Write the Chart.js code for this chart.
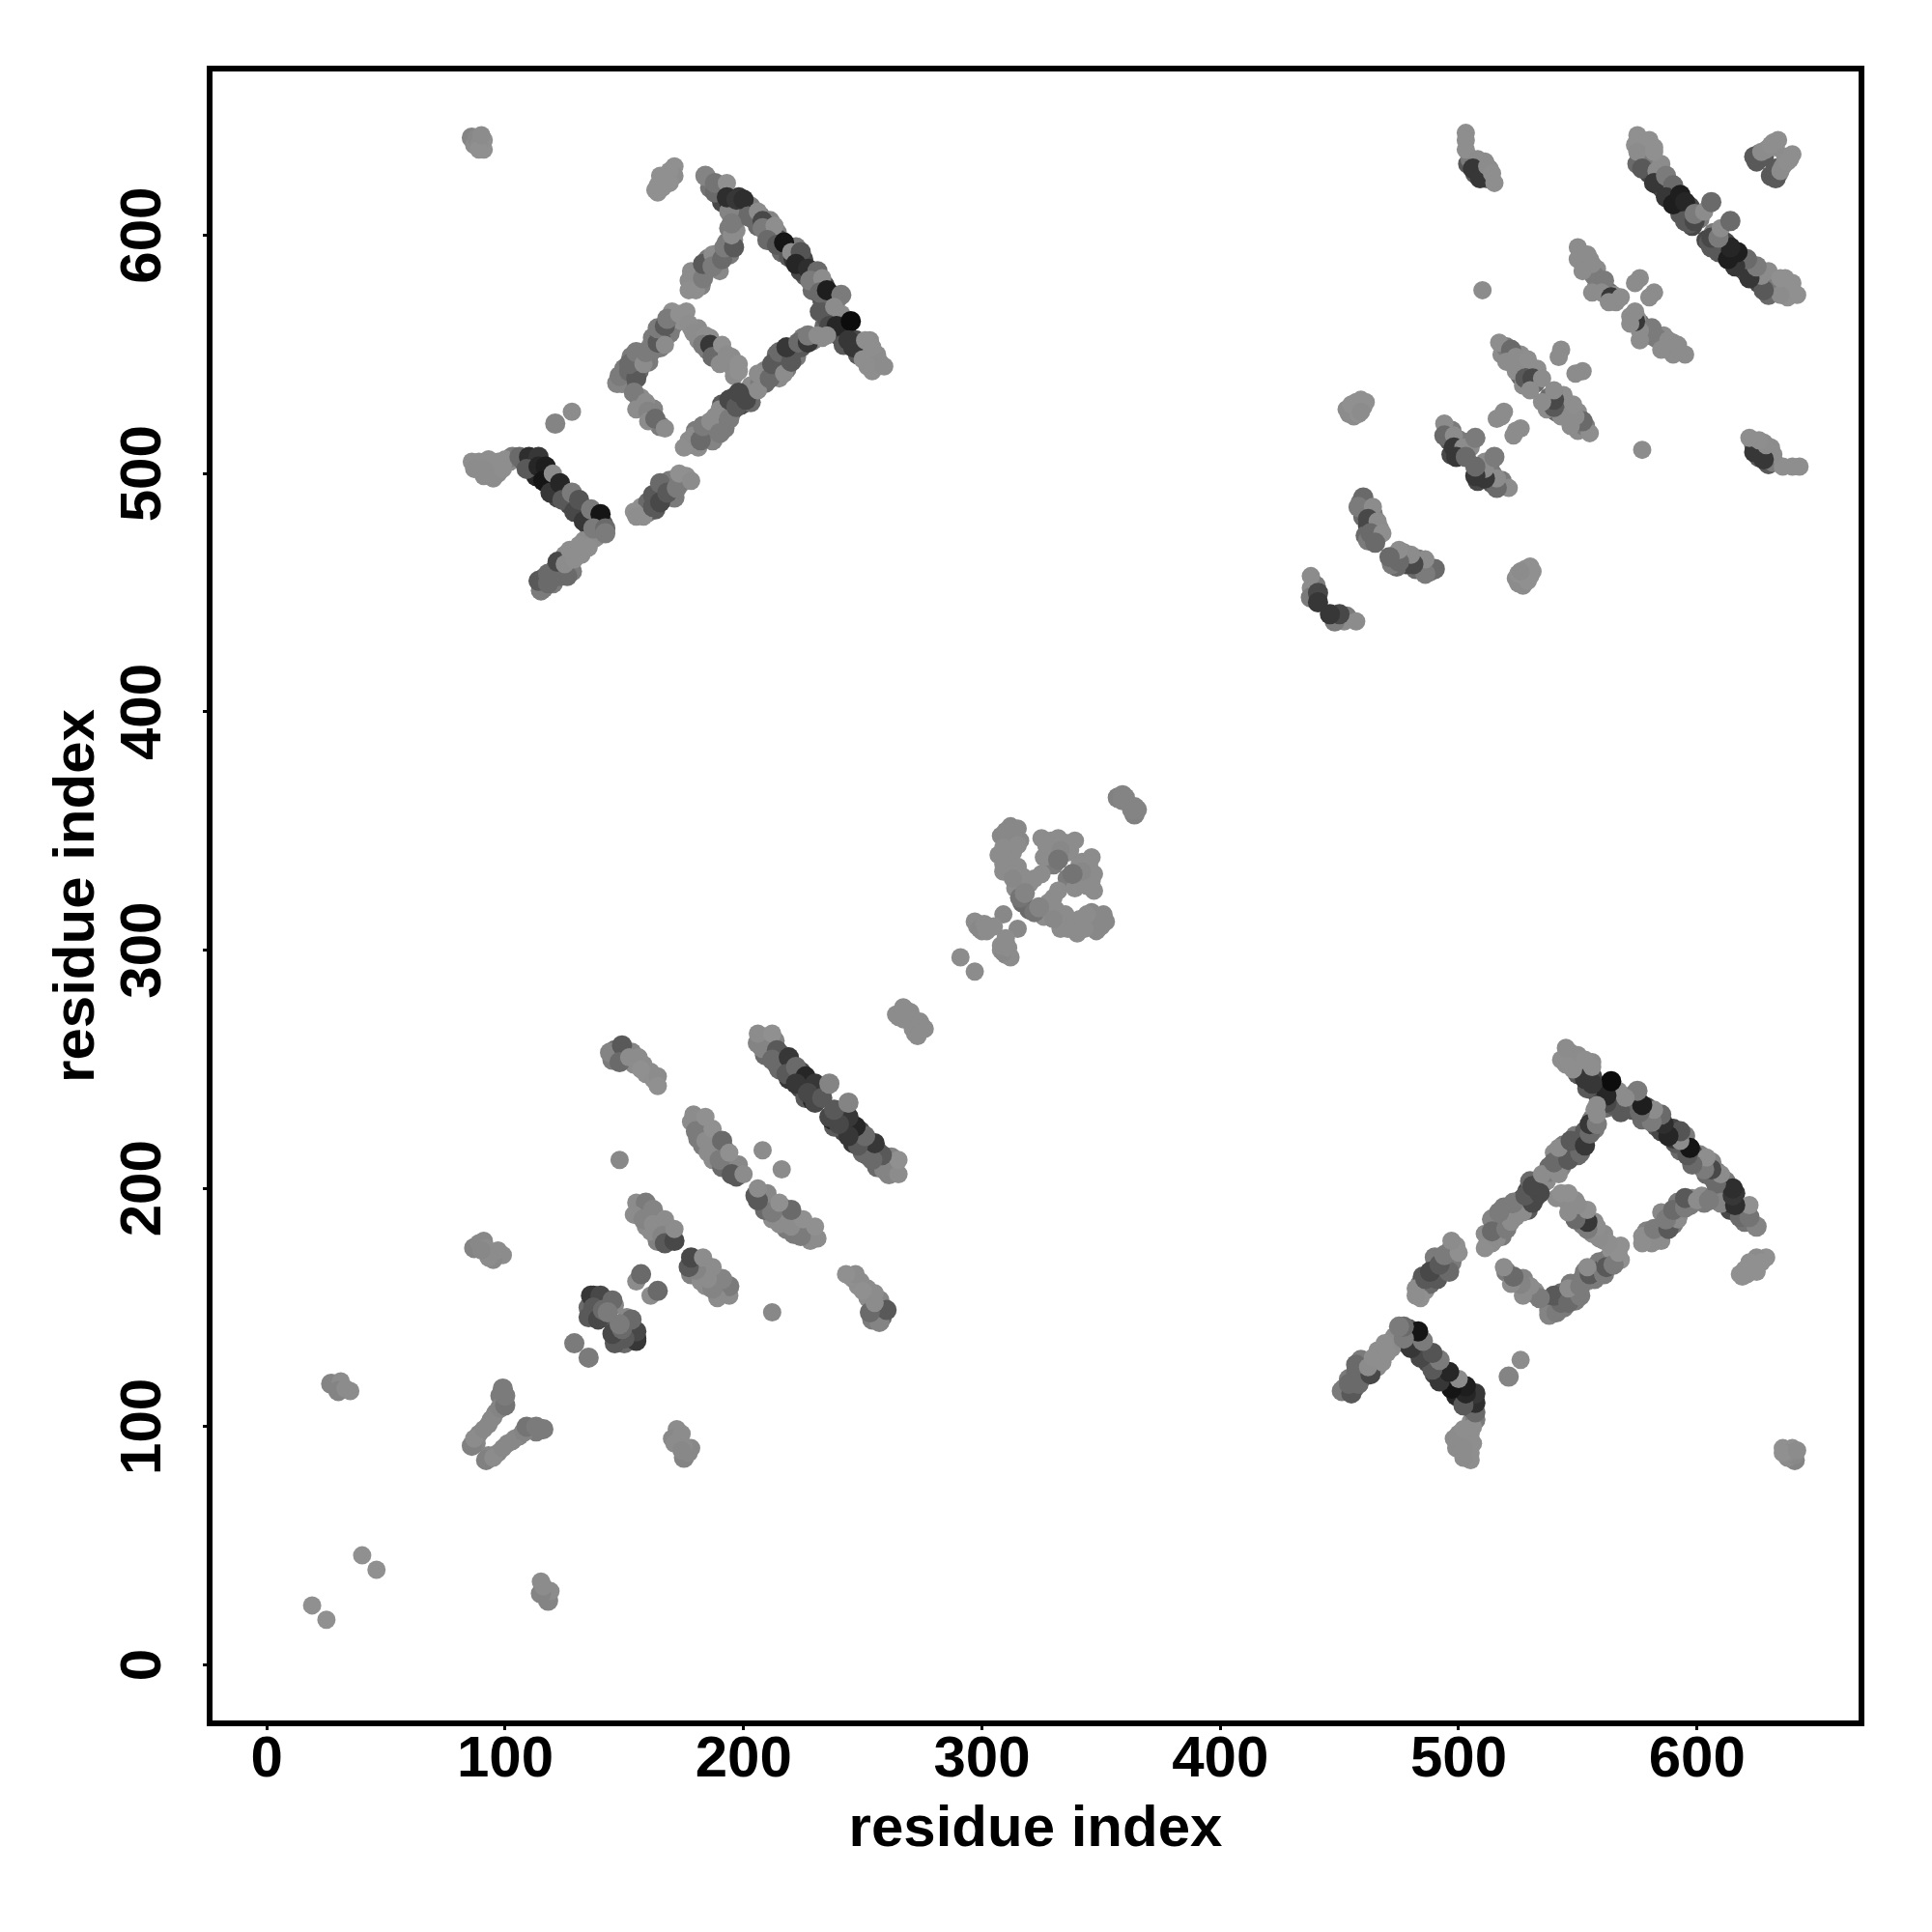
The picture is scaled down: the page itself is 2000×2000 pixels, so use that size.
<!DOCTYPE html>
<html>
<head>
<meta charset="utf-8">
<style>html,body{margin:0;padding:0;background:#fff}canvas{display:block}</style>
<script src="https://cdn.jsdelivr.net/npm/chart.js@4/dist/chart.umd.min.js"></script>
</head>
<body>
<canvas id="c" width="2000" height="2000"></canvas>
<script>
const axisLabel = "residue index";
const tickValues = [0,100,200,300,400,500,600];
// Each contact: [residue a, residue b, grey level]; the map is symmetric, (b,a) is drawn too.
const lowerLayer1 = [[88,93,130],[89,97,132],[93,101,132],[94,103,132],[96,106,130],[99,111,112],[98,113,119],
 [138,152,85],[142,153,102],[138,147,51],[136,148,102],[141,146,85],[144,151,119],[139,150,51],[146,151,132],[137,155,51],[135,150,102],
 [156,191,132],[157,190,125],[160,188,125],[163,187,128],[159,184,136],[164,183,125],[168,184,136],[169,180,119],[170,181,100],[164,178,125],[161,186,128],[157,192,119],[168,178,85],
 [146,258,102],[147,256,85],[150,257,85],[149,255,102],[153,257,128],[154,252,136],[155,252,136],[158,252,136],[159,248,140],[161,249,136],[162,246,138],[163,245,140],[145,254,119],
 [178,228,136],[182,226,119],[181,221,119],[185,225,136],[183,218,119],[186,223,136],[188,218,119],[187,212,136],[189,215,136],[192,217,136],[192,213,136],[193,209,119],[191,209,102],[197,208,128],[197,205,85],[198,210,132],
 [206,261,128],[209,263,128],[210,260,119],[209,256,102],[211,261,119],[213,262,128],[216,256,85],[214,252,85],[217,252,68],[215,250,102],[220,250,68],[219,246,51],[224,249,68],[224,245,51],[224,242,68],[228,243,34],[226,238,85],[231,241,51],[229,237,34],
 [310,350,132],[313,349,132],[311,345,132],[313,341,136],[307,340,136],[311,338,136],[309,333,136],[315,335,136],[318,329,136],[322,330,136],[314,326,136],[317,320,102],[316,346,132],[327,340,136],[330,343,136],[335,345,136],[337,342,136],[330,340,136],[330,336,119],[326,339,136],[298,310,136],[300,308,136],[303,310,136]];
const lowerLayer2 = [[186,620,112],[190,621,119],[190,617,85],[191,614,68],[195,613,51],[198,616,51],[194,614,40],[203,612,119],[204,607,85],[206,604,102],[207,608,119],[210,602,85],[211,606,128],[212,600,102],[214,601,128],[215,598,68],[218,594,68],[216,593,102],[219,591,85],[221,590,51],[222,595,119],[225,590,68],[226,583,85],[224,585,68],[229,584,102],[230,579,85],[231,582,119],[229,577,102],[234,579,68],[237,575,85],[236,572,68],[233,573,85],[235,570,102],[239,573,119],[232,568,85],[234,562,102],[237,566,68],[240,565,51],[242,562,34],[243,559,51],[240,558,68],[242,554,85],[247,556,68],[248,550,85],[249,553,102],[253,556,136],[252,550,138],[256,550,136],[255,547,138],[257,547,136],[252,545,138],
 [178,583,136],[180,580,130],[179,578,136],[181,585,119],[182,579,125],[185,590,119],[185,586,119],[188,589,136],[189,592,119],[190,585,132],[193,593,102],[194,592,119],[193,597,119],[196,598,136],[194,603,119],[197,602,136],[197,607,119],[198,610,102],[194,610,128],
 [149,538,128],[150,544,119],[153,539,85],[154,548,119],[156,543,102],[153,549,119],[157,549,119],[160,547,119],[161,554,136],[160,549,119],[162,552,119],[162,557,119],[165,558,102],[169,559,119],[166,560,85],[170,562,119],[165,553,119],[171,565,136],[174,564,140],[170,568,140],[175,566,140],[178,561,136],[181,556,136],[181,561,136],[185,552,119],[188,552,85],[189,549,136],[192,547,136],[195,549,136],[195,545,136],[196,541,136],[186,557,136],
 [157,532,136],[157,528,136],[162,527,128],[156,531,132],[165,520,119],
 [177,512,136],[177,514,136],[180,518,119],[181,511,136],[184,516,119],[185,519,102],[187,514,128],[188,519,119],[188,524,136],[192,519,119],[191,529,85],[192,525,102],[195,526,85],[196,532,68],[199,529,68],[203,533,85],[203,530,102],[203,537,136],[207,538,119],[209,543,128],[209,538,102],[214,545,102],[214,550,102],[215,540,136],[218,548,85],[218,544,119],[217,552,102],[221,551,85],[222,549,119],[224,553,85],[225,557,119],[229,556,119],[233,557,136],
 [157,486,140],[160,484,119],[160,488,102],[163,485,85],[164,491,85],[167,490,85],[166,493,68],[170,494,102],[169,497,119],[171,490,119],[174,496,136],[176,499,140]];
const lowerLayer3 = [[89,505,138],[91,499,136],[93,502,136],[97,500,136],[97,505,138],[102,505,136],[103,507,119],[108,505,85],[111,504,51],[112,501,51],[113,499,34],[115,501,34],[118,496,34],[120,494,51],[121,497,68],[122,490,68],[125,492,85],[127,487,68],[126,490,102],[130,486,68],[132,485,102],[134,483,85],[135,478,68],[138,480,68],[138,482,119],[139,476,102],[141,479,85],
 [116,452,119],[116,456,102],[120,457,85],[120,454,119],[121,460,85],[123,457,102],[124,459,119],[125,466,136],[126,461,136],[129,467,138],[128,459,119],[132,466,138],[133,472,136],[136,472,136],[138,473,136],
 [504,630,85],[505,632,119],[507,626,85],[510,627,85],[511,631,136],[512,624,85],[513,628,136],
 [574,638,140],[576,632,136],[578,636,140],[580,640,140],[578,632,136],[575,630,102],[579,629,85],[580,626,68],[581,631,119],[585,630,136],[584,624,85],[584,621,68],[588,622,85],[586,619,68],[589,617,51],[591,618,51],[592,612,34],[593,609,85],[596,610,85],[597,612,68],[598,604,68],[601,607,119],[597,605,85],
 [625,631,85],[626,634,119],[628,633,85],[629,636,136],[632,639,138],[633,637,136],
 [551,593,136],[552,589,136],[553,587,136],[555,590,136],[558,586,136],[557,583,119],[559,579,136],[558,578,119],[561,577,102],[563,576,102],[565,575,136],[566,572,136],
 [518,550,136],[520,553,119],[522,549,119],[523,546,136],[526,550,136],[526,545,119],[526,541,102],[529,544,102],[530,542,85],[532,538,102],[533,542,136],[527,537,136],
 [495,519,136],[496,514,85],[497,518,119],[500,514,119],[499,509,51],[501,509,68],[497,508,68],[504,513,119],[505,511,136],[519,526,136],
 [459,488,119],[461,484,119],[460,482,102],[462,478,68],[464,483,119],[464,478,119],[461,474,102],[466,474,136],[467,477,136],[462,472,119],
 [439,454,136],[440,453,119],[439,449,68]];
const isolated = [[19,25,140],[40,46,140],[27,118,128],[31,119,136],[30,115,128],[33,116,136],[35,115,136],
 [129,135,119],[155,161,136],[157,164,102],[208,216,136],[148,212,132],[121,521,128],[128,526,136],[510,577,136],
 [291,297,136],[309,315,132],[358,364,128],[357,364,125],[359,365,128],[359,363,128],[360,364,128],[265,272,136],[268,275,136],[266,274,136],[269,273,136],[267,271,136],[270,274,136],[264,273,136],[267,276,136],
 [86,641,128],[91,640,140],[91,636,140],[87,638,136],[88,641,132],[89,638,136],[89,636,140],[90,642,136],
 [171,629,140],[168,625,140],[164,621,140],[164,618,140],[171,625,136],[166,623,140],[169,627,140],[166,620,140],[169,622,140],[165,625,140],[163,619,140],
 [91,178,132],[87,175,128],[95,173,136],[99,172,136],[95,170,132],[89,177,132],[92,175,136],[97,174,136],[93,171,136],[90,174,132],
 [456,527,140],[459,531,140],[456,524,136],[460,528,140],[453,527,136],[458,528,140],[457,530,140],[454,525,136],[458,525,140],[455,529,140],[461,530,140],[459,526,136]];
const hairpin100 = [[86,92,125],[87,95,136],[91,99,132],[95,104,132],[98,108,128],[100,109,112],[100,113,119],[99,116,119]];
const block140 = [[136,155,51],[140,155,68],[137,150,85],[135,146,85],[139,145,68],[141,149,102],[145,153,102],[143,148,119]];
const strand155 = [[161,182,136],[155,194,136],[159,194,119],[154,189,136],[158,187,128],[162,191,128],[162,185,136],[167,187,136],[166,180,128],[167,177,85],[171,178,68],[171,183,136]];
const strand145 = [[144,257,128],[149,260,85],[148,253,102],[152,255,136],[156,255,136],[157,250,140],[164,247,136],[164,243,140]];
const strand178 = [[179,231,136],[180,224,119],[184,230,140],[184,220,136],[185,215,136],[187,225,140],[191,220,102],[190,212,119],[194,215,140],[195,206,85],[200,206,136]];
const strand205 = [[208,259,128],[206,265,136],[212,265,140],[214,258,85],[212,254,102],[219,255,51],[218,248,85],[222,251,102],[226,247,34],[222,244,51],[230,244,51],[227,240,68],[230,236,68],[233,238,85],[236,244,128]];
const blobNear330 = [[297,312,136],[299,309,132],[302,308,136],[305,310,136],[301,311,136],
 [312,352,132],[315,351,132],[308,348,132],[315,344,136],[309,343,136],[309,336,136],[313,332,136],[317,331,136],[325,332,136],[320,328,136],[316,322,112],[318,324,128],[313,330,132],
 [325,347,136],[329,346,136],[332,347,136],[339,346,136],[327,344,136],[336,341,136],[333,342,132],[332,338,112]];
const longTrack = [[184,625,128],[188,618,102],[188,622,112],[193,622,140],[193,616,42],[197,615,51],[200,615,42],[202,608,102],[206,610,136],[208,606,68],[208,603,119],[213,604,138],[210,598,102],[214,596,85],[217,597,17],[220,593,136],[224,593,80],[222,588,34],[227,586,42],[231,585,102],[228,581,119],[233,582,136],[232,576,102],[235,577,26],[241,575,119],[235,565,85],[238,570,136],[241,567,136],[236,562,68],[239,562,34],[245,564,8],[244,556,51],[246,553,51],[251,556,138],[254,553,138],[250,548,138],[254,543,138],[259,545,136]];
const branch195 = [[178,585,136],[177,581,136],[177,577,138],[180,577,138],[183,582,119],[183,588,85],[187,592,136],[187,587,119],[191,590,102],[192,595,119],[196,595,85],[195,600,136],[195,605,119]];
const middleTrack = [[147,538,128],[148,541,119],[152,543,102],[155,540,85],[152,546,102],[155,551,119],[158,546,136],[159,551,119],[164,555,85],[164,561,119],[167,562,85],[167,554,136],[168,565,119],[173,567,140],[176,568,140],[177,563,138],[179,559,136],[184,558,138],[183,554,119],[186,554,51],[187,549,102],[191,554,140],[190,546,136],[193,550,136],[198,546,140],[198,543,140]];
const rungTrack = [[154,534,119],[159,530,136],[155,527,136],[160,526,128],[160,522,136],[163,523,102],[167,519,136]];
const riseTrack = [[175,511,138],[179,516,136],[182,514,102],[183,520,119],[186,522,136],[190,517,119],[190,527,136],[194,523,119],[194,531,68],[197,528,85],[198,534,68],[201,531,68],[206,535,136],[206,542,136],[211,540,102],[212,546,85],[217,542,136],[215,551,102],[220,547,85],[218,553,51],[223,555,102],[227,555,51],[227,558,119],[231,558,136],[235,558,136]];
const lowerRise = [[154,484,140],[155,482,138],[158,482,138],[162,486,85],[162,491,85],[165,488,68],[165,496,102],[168,492,85],[172,494,119],[173,500,140],[178,497,136]];
const armUpper = [[86,505,138],[87,502,136],[93,506,138],[91,502,136],[95,498,136],[100,506,138],[99,502,138],[106,507,102],[110,507,42],[114,507,51],[109,502,85],[114,503,34],[117,503,26],[116,497,17],[119,492,51],[120,500,136],[123,496,34],[124,489,85],[128,492,119],[129,484,68],[131,489,80],[133,480,51],[136,485,119],[140,483,17],[137,477,119],[142,477,102],[142,475,119]];
const armLower = [[115,451,119],[114,455,85],[118,454,102],[118,458,102],[122,463,68],[126,457,102],[125,462,136],[129,464,138],[127,468,138],[131,470,138],[135,469,138]];
const cornerCluster = [[503,643,138],[503,640,138],[503,636,138],[508,632,136],[506,628,51],[509,624,51],[512,629,136],[514,626,138],[515,622,138]];
const crossTrack = [[575,642,140],[577,639,140],[582,637,140],[575,635,136],[582,635,140],[577,628,85],[583,627,136],[582,622,51],[587,625,119],[590,621,102],[587,616,51],[590,613,26],[593,617,26],[595,614,34],[595,606,85],[599,606,68],[599,609,119],[603,610,136],[606,614,102]];
const tinyCross = [[624,633,85],[627,635,136],[631,638,138],[634,640,138]];
const strand550 = [[550,595,136],[550,590,136],[554,592,136],[556,588,136],[552,585,136],[561,581,119],[556,576,136],[560,576,136],[564,574,51],[563,572,136],[568,574,136],[576,582,136],[574,580,136]];
const strand520 = [[517,555,138],[522,552,102],[520,547,136],[524,549,136],[529,548,138],[524,543,136],[528,540,85],[533,544,138],[531,540,68],[535,540,136],[530,535,136],[543,552,136],[542,549,136]];
const strand495 = [[494,521,136],[494,516,102],[498,516,136],[498,511,51],[502,511,136],[499,507,51],[503,507,102],[507,515,119],[518,524,136],[516,523,136]];
const strand460 = [[460,490,102],[458,486,119],[464,486,136],[462,481,68],[466,480,136],[463,475,102],[468,475,138],[465,471,102]];
const strand438 = [[438,457,136],[438,452,136],[438,448,119],[441,450,68],[441,446,51]];

const strands = [lowerLayer1,lowerLayer2,lowerLayer3,isolated,hairpin100,block140,strand155,strand145,strand178,strand205,blobNear330,longTrack,branch195,middleTrack,rungTrack,riseTrack,lowerRise,armUpper,armLower,cornerCluster,crossTrack,tinyCross,strand550,strand520,strand495,strand460,strand438];
const points = [], colors = [], radii = [];
strands.forEach(list => list.forEach(([a,b,g]) => {
  const col = `rgb(${g+4},${g+4},${g+4})`;
  const r = g >= 130 ? 9.5 : 10.5;
  points.push({x:a,y:b}); colors.push(col); radii.push(r);
  points.push({x:b,y:a}); colors.push(col); radii.push(r);
}));

const frame = {
  id:'frame',
  afterDatasetsDraw(chart){
    const {ctx,chartArea:a} = chart;
    ctx.save();ctx.strokeStyle='#000';ctx.lineWidth=6;
    ctx.strokeRect(a.left,a.top,a.right-a.left,a.bottom-a.top);
    ctx.restore();
  }
};
const font = {family:'"Liberation Sans"',weight:'bold',size:60,lineHeight:1};
const setTicks = s => { s.ticks = tickValues.map(v => ({value:v})); };
new Chart(document.getElementById('c'),{
  type:'scatter',
  data:{datasets:[{data:points,backgroundColor:colors,pointRadius:radii,pointBorderWidth:0,pointHoverRadius:radii}]},
  plugins:[frame],
  options:{
    responsive:false,animation:false,
    layout:{padding:{left:0,top:71,right:73,bottom:0}},
    plugins:{legend:{display:false},tooltip:{enabled:false}},
    scales:{
      x:{type:'linear',min:-24,max:669,
        afterBuildTicks:setTicks,
        afterFit(s){s.height=216;},
        grid:{display:true,drawOnChartArea:false,drawTicks:true,tickLength:7,tickColor:'#000',tickWidth:3},
        border:{display:false},
        ticks:{color:'#000',font,padding:1,maxRotation:0,minRotation:0,includeBounds:false,autoSkip:false},
        title:{display:true,text:axisLabel,color:'#000',font,padding:{top:0,bottom:76}}},
      y:{type:'linear',min:-24.5,max:670,
        afterBuildTicks:setTicks,
        afterFit(s){s.width=217;},
        grid:{display:true,drawOnChartArea:false,drawTicks:true,tickLength:7,tickColor:'#000',tickWidth:3},
        border:{display:false},
        ticks:{color:'#000',font,padding:10,minRotation:90,maxRotation:90,crossAlign:'center',includeBounds:false,autoSkip:false},
        title:{display:true,text:axisLabel,color:'#000',font,padding:{top:50,bottom:0}}}
    }
  }
});
</script>
</body>
</html>
